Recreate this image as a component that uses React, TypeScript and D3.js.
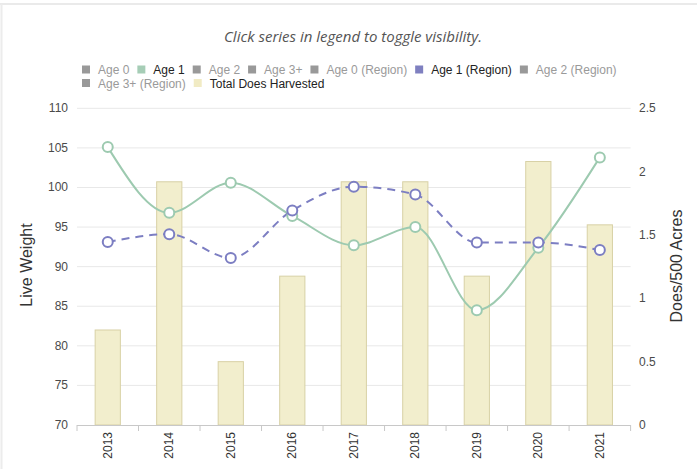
import React from "react";
import * as d3 from "d3";

const years = ["2013", "2014", "2015", "2016", "2017", "2018", "2019", "2020", "2021"];
const age1 = [105.1, 96.8, 100.6, 96.4, 92.7, 95.0, 84.5, 92.4, 103.8];
const age1Region = [93.1, 94.1, 91.1, 97.1, 100.1, 99.1, 93.05, 93.05, 92.1];
const totalDoes = [0.75, 1.92, 0.5, 1.175, 1.92, 1.92, 1.175, 2.08, 1.58];
const leftTicks = [70, 75, 80, 85, 90, 95, 100, 105, 110];
const rightTicks = [0, 0.5, 1, 1.5, 2, 2.5];
const legendNames = ["Age 0", "Age 1", "Age 2", "Age 3+", "Age 0 (Region)", "Age 1 (Region)", "Age 2 (Region)", "Age 3+ (Region)", "Total Does Harvested"];
const legendActive = [false, true, false, false, false, true, false, false, true];

const GREEN = "#9dcab0";
const PURPLE = "#7c7ec2";
const BAR_FILL = "#f2eecd";
const BAR_STROKE = "#d8d1a6";
const LEG_COLORS = ["#999", "#a6cdb6", "#999", "#999", "#999", "#7f80c0", "#999", "#999", "#f1ebc4"];

const W = 697, H = 469;
const L = 77, R = 630.6, T = 108.3, B = 425;
const FONT = "'Liberation Sans', Arial, sans-serif";

function measure(text: string, font: string): number {
  const c = document.createElement("canvas");
  const ctx = c.getContext("2d");
  if (!ctx) return text.length * 6.5;
  ctx.font = font;
  return ctx.measureText(text).width;
}

export default function App() {
  const x = d3.scaleBand<string>().domain(years).range([L, R]);
  const yL = d3.scaleLinear().domain([70, 110]).range([B, T]);
  const yR = d3.scaleLinear().domain([0, 2.5]).range([B, T]);
  const bw = x.bandwidth() * 0.41;
  const cx = (i: number) => (x(years[i]) as number) + x.bandwidth() / 2;

  const line = d3.line<number>().x((_, i) => cx(i)).y((d) => yL(d)).curve(d3.curveMonotoneX);

  // legend layout
  const items: { name: string; x: number; y: number; active: boolean; color: string }[] = [];
  let lx = 82, ly = 70;
  legendNames.forEach((n, i) => {
    const tw = measure(n, `12px ${FONT}`);
    if (lx + 16 + tw > 640) { lx = 82; ly += 13.5; }
    items.push({ name: n, x: lx, y: ly, active: legendActive[i], color: LEG_COLORS[i] });
    lx += 16 + tw + 8;
  });

  const boundaries = d3.range(years.length + 1).map((i) => L + i * x.bandwidth());

  return (
    <svg width={W} height={H} style={{ position: "absolute", left: 0, top: 0, display: "block" }} fontFamily={FONT}>
      <rect x={0} y={0} width={W} height={H} fill="#fff" />
      <line x1={0} x2={W} y1={4} y2={4} stroke="#e3e3e3" strokeWidth={1.5} />
      <line x1={1.5} x2={1.5} y1={4} y2={H} stroke="#ececec" strokeWidth={2} />

      <text x={353} y={42} textAnchor="middle" fontStyle="italic" fontSize={15} fill="#555" fontFamily="'Open Sans', sans-serif">
        Click series in legend to toggle visibility.
      </text>

      {items.map((it) => (
        <g key={it.name}>
          <rect x={it.x} y={it.y - 4.5} width={8} height={8} fill={it.color} />
          <text x={it.x + 16} y={it.y + 4} fontSize={12} fill={it.active ? "#222" : "#9a9a9a"}>{it.name}</text>
        </g>
      ))}

      {leftTicks.map((t) => (
        <g key={t}>
          {t !== 70 && <line x1={L} x2={R} y1={yL(t)} y2={yL(t)} stroke="#e8e8e8" strokeWidth={1} />}
          <text x={68} y={yL(t) + 4} textAnchor="end" fontSize={12} fill="#4a4a4a">{t}</text>
        </g>
      ))}
      {rightTicks.map((t) => (
        <text key={t} x={639} y={yR(t) + 4} textAnchor="start" fontSize={12} fill="#4a4a4a">{t}</text>
      ))}

      <text transform={`translate(32,265) rotate(-90)`} textAnchor="middle" fontSize={16} fill="#333">Live Weight</text>
      <text transform={`translate(682,266) rotate(-90)`} textAnchor="middle" fontSize={16} fill="#333">Does/500 Acres</text>

      {totalDoes.map((v, i) => (
        <rect key={i} x={cx(i) - bw / 2} y={yR(v)} width={bw} height={B - yR(v)} fill={BAR_FILL} stroke={BAR_STROKE} strokeWidth={1} />
      ))}

      <line x1={L} x2={R} y1={B + 0.5} y2={B + 0.5} stroke="#c8c8c8" strokeWidth={1} />
      {boundaries.map((bx, i) => (
        <line key={i} x1={bx} x2={bx} y1={B} y2={B + 6} stroke="#c8c8c8" strokeWidth={1} />
      ))}
      {years.map((yv, i) => (
        <text key={yv} transform={`translate(${cx(i) + 4},${432}) rotate(-90)`} textAnchor="end" fontSize={12} fill="#333">{yv}</text>
      ))}

      <path d={line(age1) || ""} fill="none" stroke={GREEN} strokeWidth={2} />
      <path d={line(age1Region) || ""} fill="none" stroke={PURPLE} strokeWidth={2} strokeDasharray="8,6" />
      {age1.map((v, i) => (
        <circle key={"g" + i} cx={cx(i)} cy={yL(v)} r={5} fill="#fff" stroke={GREEN} strokeWidth={2} />
      ))}
      {age1Region.map((v, i) => (
        <circle key={"p" + i} cx={cx(i)} cy={yL(v)} r={5} fill="#fff" stroke={PURPLE} strokeWidth={2} />
      ))}
    </svg>
  );
}
